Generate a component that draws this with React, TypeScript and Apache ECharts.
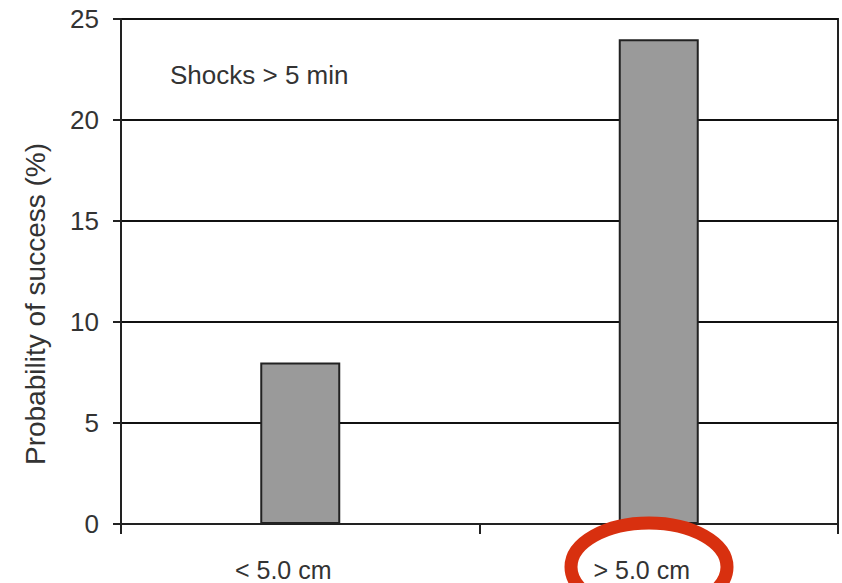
import React, { useEffect, useRef } from "react";
import * as echarts from "echarts";

const categories = ["< 5.0 cm", "> 5.0 cm"];
const successValues = [8, 24];
const yTicks = { min: 0, max: 25, interval: 5 };
const annotation = "Shocks > 5 min";
const yAxisTitle = "Probability of success (%)";

export default function App() {
  const ref = useRef<HTMLDivElement>(null);
  useEffect(() => {
    document.body.style.margin = "0";
    const chart = echarts.init(ref.current!, null, { renderer: "svg" });
    const font = "'Liberation Sans', Arial, sans-serif";
    chart.setOption({
      animation: false,
      backgroundColor: "#ffffff",
      grid: {
        left: 121,
        right: 4,
        top: 19,
        bottom: 59,
        show: true,
        borderColor: "#222",
        borderWidth: 2,
        backgroundColor: "transparent",
      },
      xAxis: {
        type: "category",
        data: categories,
        boundaryGap: true,
        axisLine: { show: true, lineStyle: { color: "#222", width: 2 } },
        axisTick: { show: true, length: 10, lineStyle: { color: "#222", width: 2 } },
        axisLabel: {
          fontSize: 25,
          lineHeight: 25,
          color: "#333",
          fontFamily: font,
          margin: 33,
          padding: [0, 34, 0, 0],
        },
        splitLine: { show: false },
      },
      yAxis: {
        type: "value",
        min: yTicks.min,
        max: yTicks.max,
        interval: yTicks.interval,
        axisLine: { show: true, lineStyle: { color: "#222", width: 2 } },
        axisTick: { show: true, length: 8, lineStyle: { color: "#222", width: 2 } },
        axisLabel: { fontSize: 26, color: "#333", fontFamily: font, margin: 22 },
        splitLine: { show: true, lineStyle: { color: "#111", width: 2 } },
      },
      series: [
        {
          type: "bar",
          data: successValues,
          barWidth: 80,
          itemStyle: { color: "#9a9a9a", borderColor: "#222", borderWidth: 2 },
          silent: true,
        },
      ],
      graphic: [
        {
          type: "text",
          left: 170,
          top: 62,
          style: { text: annotation, fontSize: 26, fill: "#333", fontFamily: font },
        },
        {
          type: "text",
          x: 35,
          y: 304,
          rotation: Math.PI / 2,
          style: {
            text: yAxisTitle,
            fontSize: 28,
            fill: "#333",
            fontFamily: font,
            align: "center",
            verticalAlign: "middle",
          },
        },
        {
          type: "ellipse",
          z: 100,
          shape: { cx: 649, cy: 567, rx: 78, ry: 44 },
          style: { fill: "none", stroke: "#d8300f", lineWidth: 13 },
        },
      ],
    });
    return () => chart.dispose();
  }, []);
  return <div ref={ref} style={{ width: 842, height: 583 }} />;
}
